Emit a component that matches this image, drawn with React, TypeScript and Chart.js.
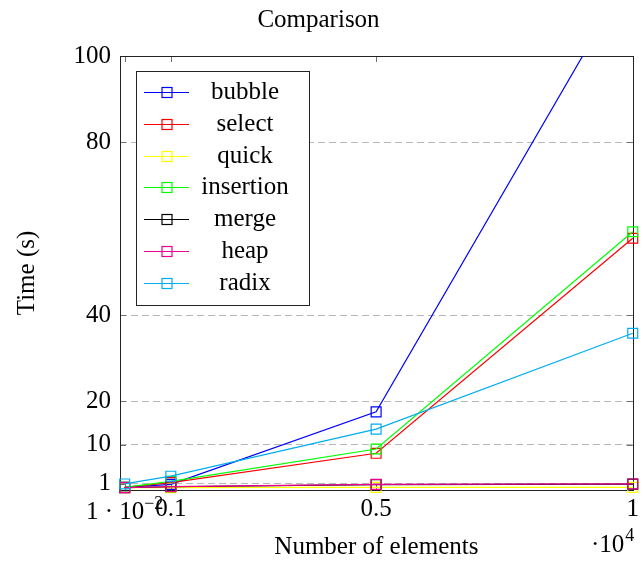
import React, { useEffect, useRef } from 'react';
import { Chart, registerables } from 'chart.js';

Chart.register(...registerables);

// ---- data ----
const xValues = [0.01, 0.1, 0.5, 1];
const seriesNames = ['bubble', 'select', 'quick', 'insertion', 'merge', 'heap', 'radix'];
const bubble = [0.1, 0.8, 17.6, 120];
const select = [0.1, 1.2, 8.0, 57.8];
const quick = [0.02, 0.05, 0.1, 0.1];
const insertion = [0.1, 1.5, 9.0, 59.3];
const merge = [0.05, 0.25, 0.75, 0.85];
const heap = [0.05, 0.3, 0.8, 0.9];
const radix = [0.9, 2.7, 13.6, 35.8];
const seriesValues = [bubble, select, quick, insertion, merge, heap, radix];
const seriesColors = ['#0000ff', '#ff0000', '#ffff00', '#00ff00', '#000000', '#ec008c', '#00aeef'];
const yTicks = [1, 10, 20, 40, 80, 100];
const xTicks = [0.01, 0.1, 0.5, 1];
const xTickLabels = ['1 · 10', '0.1', '0.5', '1'];
const xTickSup = '−2';
const xMultiplier = '·10';
const xMultiplierSup = '4';

const FONT = "'Liberation Serif', 'Times New Roman', serif";

const decorPlugin = {
  id: 'pgfDecor',
  beforeDatasetsDraw(chart: any) {
    const { ctx, chartArea } = chart;
    const { left, right, top, bottom } = chartArea;
    const xs = chart.scales.x;
    const ys = chart.scales.y;
    ctx.save();
    ctx.strokeStyle = '#707070';
    ctx.lineWidth = 1;
    ctx.setLineDash([]);
    ctx.beginPath();
    yTicks.forEach((v) => {
      const py = Math.round(ys.getPixelForValue(v)) + 0.5;
      ctx.moveTo(left, py); ctx.lineTo(left + 6, py);
      ctx.moveTo(right, py); ctx.lineTo(right - 6, py);
    });
    xTicks.forEach((v) => {
      const px = Math.round(xs.getPixelForValue(v)) + 0.5;
      ctx.moveTo(px, bottom); ctx.lineTo(px, bottom - 6);
      ctx.moveTo(px, top); ctx.lineTo(px, top + 6);
    });
    ctx.stroke();
    ctx.strokeStyle = '#222';
    ctx.strokeRect(Math.round(left) + 0.5, Math.round(top) + 0.5, Math.round(right - left), Math.round(bottom - top));
    ctx.restore();
  },
  afterDraw(chart: any) {
    const { ctx } = chart;
    const xs = chart.scales.x;
    ctx.save();
    ctx.fillStyle = '#000';
    ctx.textBaseline = 'alphabetic';
    ctx.textAlign = 'left';
    // first x tick label with superscript
    const px0 = xs.getPixelForValue(xTicks[0]);
    ctx.font = `25px ${FONT}`;
    const w1 = ctx.measureText(xTickLabels[0]).width;
    ctx.font = `18px ${FONT}`;
    const w2 = ctx.measureText(xTickSup).width;
    const sx = px0 - (w1 + w2) / 2;
    ctx.font = `25px ${FONT}`;
    ctx.fillText(xTickLabels[0], sx, 519);
    ctx.font = `18px ${FONT}`;
    ctx.fillText(xTickSup, sx + w1, 509);
    // multiplier
    ctx.font = `25px ${FONT}`;
    const wm = ctx.measureText(xMultiplier).width;
    const mx = 591;
    ctx.fillText(xMultiplier, mx, 552);
    ctx.font = `18px ${FONT}`;
    ctx.fillText(xMultiplierSup, mx + wm + 1, 541);

    // legend
    const lx = 136, ly = 71, lw = 173, lh = 234;
    ctx.fillStyle = '#fff';
    ctx.fillRect(lx, ly, lw, lh);
    ctx.strokeStyle = '#222';
    ctx.lineWidth = 1;
    ctx.strokeRect(lx + 0.5, ly + 0.5, lw, lh);
    chart.data.datasets.forEach((ds: any, i: number) => {
      const cy = Math.round(92 + i * 31.8) + 0.5;
      ctx.strokeStyle = ds.borderColor;
      ctx.lineWidth = 1.2;
      ctx.beginPath();
      ctx.moveTo(144, cy); ctx.lineTo(189, cy);
      ctx.stroke();
      ctx.strokeRect(162, cy - 5, 10, 10);
      ctx.fillStyle = '#000';
      ctx.font = `25px ${FONT}`;
      ctx.textAlign = 'center';
      ctx.textBaseline = 'middle';
      ctx.fillText(ds.label, 245, cy);
    });
    ctx.restore();
  },
};

export default function App() {
  const ref = useRef<HTMLCanvasElement | null>(null);
  useEffect(() => {
    document.body.style.margin = '0';
    const canvas = ref.current;
    if (!canvas) return;
    const datasets = seriesNames.map((name, i) => ({
      label: name,
      data: xValues.map((x, j) => ({ x, y: seriesValues[i][j] })),
      borderColor: seriesColors[i],
      backgroundColor: 'transparent',
      borderWidth: 1.2,
      pointStyle: 'rect',
      pointRadius: 7,
      pointBorderWidth: 1.2,
      pointBorderColor: seriesColors[i],
      pointBackgroundColor: 'transparent',
      tension: 0,
      order: seriesNames.length - i,
      clip: { left: 12, top: 0, right: 12, bottom: 12 },
    }));
    const font = { family: FONT, size: 25, lineHeight: 1.2 };
    const chart = new Chart(canvas, {
      type: 'line',
      data: { datasets },
      plugins: [decorPlugin],
      options: {
        animation: false,
        responsive: false,
        devicePixelRatio: 1,
        layout: { padding: { left: 0, right: 6, top: 0, bottom: 0 } },
        plugins: {
          legend: { display: false },
          tooltip: { enabled: false },
          title: {
            display: true,
            text: 'Comparison',
            color: '#000',
            font: { ...font, weight: 'normal' },
            padding: { top: 5, bottom: 21 },
          },
        },
        scales: {
          x: {
            type: 'linear',
            min: 0.001,
            max: 1,
            afterBuildTicks: (s: any) => { s.ticks = xTicks.map((v) => ({ value: v })); },
            afterFit: (s: any) => { s.height = 73; },
            ticks: {
              autoSkip: false,
              maxRotation: 0,
              color: '#000',
              font,
              padding: 4,
              callback: (_v: any, idx: number) => (idx === 0 ? '' : xTickLabels[idx]),
            },
            grid: { display: false, drawTicks: false },
            border: { display: false },
            title: {
              display: true,
              text: 'Number of elements',
              color: '#000',
              font,
              padding: { top: 0, bottom: 1 },
            },
          },
          y: {
            type: 'linear',
            min: -0.5,
            max: 100,
            afterBuildTicks: (s: any) => { s.ticks = yTicks.map((v) => ({ value: v })); },
            afterFit: (s: any) => { s.width = 120; },
            ticks: { color: '#000', font, padding: 9 },
            grid: { color: '#b8b8b8', lineWidth: 1, drawTicks: false },
            border: { display: false, dash: [7, 4] },
            title: {
              display: true,
              text: 'Time (s)',
              color: '#000',
              font,
              padding: { top: 12, bottom: 0 },
            },
          },
        },
      } as any,
    });
    return () => chart.destroy();
  }, []);
  return <canvas ref={ref} width={643} height={563} style={{ display: 'block' }} />;
}
